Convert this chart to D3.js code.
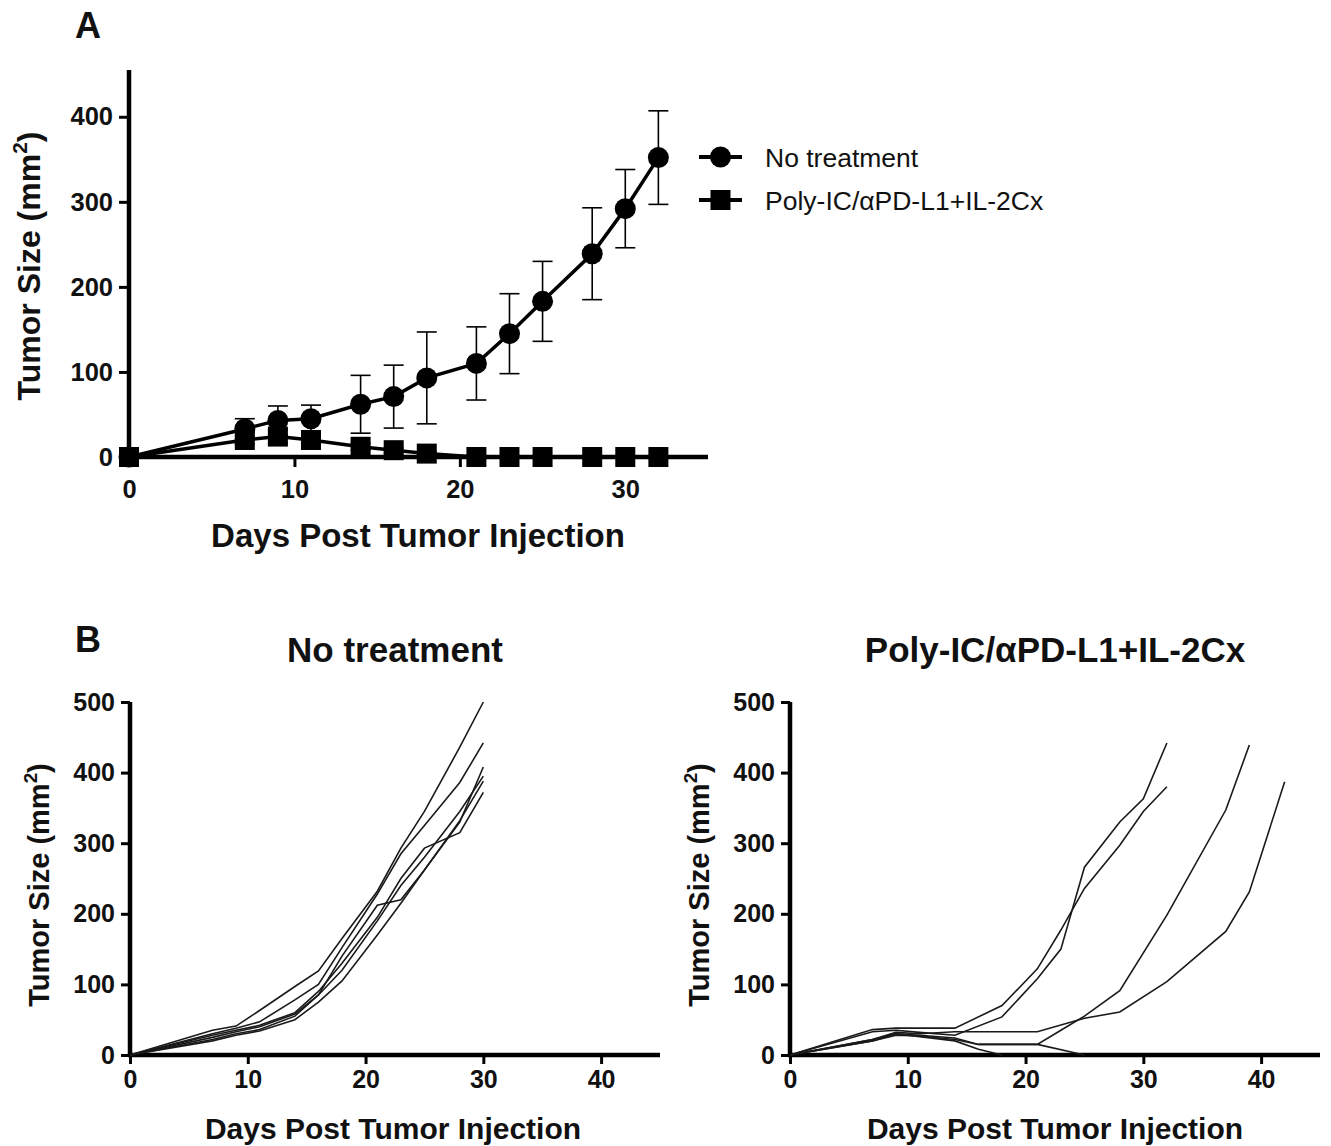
<!DOCTYPE html>
<html>
<head>
<meta charset="utf-8">
<script src="https://cdn.jsdelivr.net/npm/d3@7"></script>
<style>
	body { margin: 0; background: #fff; }
	text { font-family: "Liberation Sans", Arial, Helvetica, sans-serif; fill: #111; }
</style>
</head>
<body>
<svg id="fig" width="1331" height="1146"></svg>
<script>
// ---------- Panel A: group means +/- SEM ----------
const days = [0, 7, 9, 11, 14, 16, 18, 21, 23, 25, 28, 30, 32];
const noTreatMean = [0, 33, 43, 45, 62, 71, 93, 110, 145, 183, 239, 292, 352];
const noTreatSem  = [0, 12, 17, 16, 34, 37, 54, 43, 47, 47, 54, 46, 55];
const comboMean   = [0, 20, 24, 20, 12, 8, 4, 0, 0, 0, 0, 0, 0];
const comboSem    = [0, 5, 8, 6, 4, 3, 2, 0, 0, 0, 0, 0, 0];
const groupNames  = ["No treatment", "Poly-IC/\u03B1PD-L1+IL-2Cx"];

// ---------- Panel B: individual mice ----------
const ntDays = [0, 7, 9, 11, 14, 16, 18, 21, 23, 25, 28, 30];
const ntMice = [
	[0, 35, 41, 63, 97, 119, 165, 232, 293, 345, 436, 500],
	[0, 30, 38, 47, 78, 100, 152, 228, 285, 325, 386, 442],
	[0, 25, 33, 40, 58, 85, 140, 212, 220, 262, 330, 408],
	[0, 28, 35, 42, 60, 90, 130, 195, 250, 293, 315, 372],
	[0, 22, 30, 36, 55, 85, 120, 190, 240, 280, 345, 395],
	[0, 20, 28, 34, 50, 75, 105, 170, 215, 262, 332, 388]
];

const comboMiceDays = [
	[0, 7, 9, 11, 14, 18, 21, 23, 25, 28, 30, 32],
	[0, 7, 9, 11, 14, 18, 21, 23, 25, 28, 30, 32],
	[0, 7, 9, 11, 14, 16, 21, 23, 25, 28, 32, 37, 39],
	[0, 7, 9, 11, 14, 18, 21, 25, 28, 32, 37, 39, 42],
	[0, 7, 9, 11, 14, 16, 21, 25],
	[0, 7, 9, 11, 14, 16, 18]
];
const comboMiceVals = [
	[0, 33, 35, 32, 28, 54, 108, 150, 266, 330, 363, 442],
	[0, 36, 38, 38, 38, 70, 122, 177, 236, 297, 345, 380],
	[0, 22, 30, 28, 24, 15, 15, 35, 55, 91, 198, 347, 439],
	[0, 22, 32, 30, 33, 33, 33, 52, 61, 104, 175, 231, 387],
	[0, 20, 28, 27, 22, 15, 15, 0],
	[0, 20, 30, 26, 20, 8, 0]
];

const xTitle = "Days Post Tumor Injection";

const svg = d3.select("#fig");

// axis helper: thick black axes, bold tick labels
function drawAxes(x, y, xTicks, yTicks, opt) {
	const y0 = y.range()[0];
	const x0 = x.range()[0];

	const gx = svg.append("g")
		.attr("transform", `translate(0, ${y0})`)
		.call(d3.axisBottom(x).tickValues(xTicks).tickSize(opt.tick).tickSizeOuter(0).tickPadding(opt.xPad));
	const gy = svg.append("g")
		.attr("transform", `translate(${x0}, 0)`)
		.call(d3.axisLeft(y).tickValues(yTicks).tickSize(opt.tick).tickSizeOuter(0).tickPadding(opt.yPad));

	[gx, gy].forEach(g => {
		g.attr("font-family", null).attr("font-size", opt.font).attr("font-weight", "bold");
		g.select(".domain").attr("stroke", "#000").attr("stroke-width", 4.5);
		g.selectAll(".tick line").attr("stroke", "#000").attr("stroke-width", 3);
		g.selectAll(".tick text").attr("fill", "#111");
	});
	// make x axis meet the y axis at the corner
	gx.select(".domain").attr("d", `M${x0 - 2},0H${x.range()[1]}`);
	gy.select(".domain").attr("d", `M0,${y.range()[1]}V${y0 + 2}`);
}

function yTitle(cx, cy, size) {
	const t = svg.append("text")
		.attr("transform", `translate(${cx}, ${cy}) rotate(-90)`)
		.attr("text-anchor", "middle")
		.attr("font-size", size)
		.attr("font-weight", "bold");
	t.append("tspan").text("Tumor Size (mm");
	t.append("tspan").attr("font-size", size * 0.65).attr("dy", -size * 0.4).text("2");
	t.append("tspan").attr("dy", size * 0.4).text(")");
}

function label(txt, x, y, size, weight) {
	svg.append("text")
		.attr("x", x).attr("y", y)
		.attr("text-anchor", "middle")
		.attr("font-size", size)
		.attr("font-weight", weight || "bold")
		.text(txt);
}

/** ******************************* Panel A ******************************* **/
const xA = d3.scaleLinear().domain([0, 35]).range([129, 708]);
const yA = d3.scaleLinear().domain([0, 455]).range([457, 70]);

label("A", 88, 38, 36);
drawAxes(xA, yA, [0, 10, 20, 30], [0, 100, 200, 300, 400], {tick: 10, xPad: 13, yPad: 6, font: 25.5});
yTitle(40, 266, 32);
label(xTitle, 418, 547, 33);

const lineA = d3.line().x((d, i) => xA(days[i])).y(d => yA(d));

function errorBars(mean, sem) {
	const g = svg.append("g").attr("stroke", "#000").attr("stroke-width", 1.6);
	days.forEach((d, i) => {
		if (sem[i] <= 0) return;
		const cx = xA(d);
		const top = yA(mean[i] + sem[i]);
		const bot = yA(mean[i] - sem[i]);
		g.append("line").attr("x1", cx).attr("x2", cx).attr("y1", top).attr("y2", bot);
		g.append("line").attr("x1", cx - 10).attr("x2", cx + 10).attr("y1", top).attr("y2", top);
		g.append("line").attr("x1", cx - 10).attr("x2", cx + 10).attr("y1", bot).attr("y2", bot);
	});
}

errorBars(noTreatMean, noTreatSem);
errorBars(comboMean, comboSem);

svg.append("path").datum(comboMean)
	.attr("fill", "none").attr("stroke", "#000").attr("stroke-width", 3.5)
	.attr("d", lineA);
svg.append("path").datum(noTreatMean)
	.attr("fill", "none").attr("stroke", "#000").attr("stroke-width", 3.5)
	.attr("d", lineA);

const SQ = 20;
svg.append("g").selectAll("rect")
	.data(comboMean)
	.enter()
	.append("rect")
	.attr("x", (d, i) => xA(days[i]) - SQ / 2)
	.attr("y", d => yA(d) - SQ / 2)
	.attr("width", SQ).attr("height", SQ)
	.attr("fill", "#000");

svg.append("g").selectAll("circle")
	.data(noTreatMean)
	.enter()
	.append("circle")
	.attr("cx", (d, i) => xA(days[i]))
	.attr("cy", d => yA(d))
	.attr("r", 10.5)
	.attr("fill", "#000");

// legend
const legend = svg.append("g").attr("transform", "translate(699, 157)");
groupNames.forEach((name, i) => {
	const row = legend.append("g").attr("transform", `translate(0, ${i * 43})`);
	row.append("line").attr("x1", 0).attr("x2", 43).attr("stroke", "#000").attr("stroke-width", 4);
	if (i === 0) row.append("circle").attr("cx", 21.5).attr("r", 10.5).attr("fill", "#000");
	else row.append("rect").attr("x", 21.5 - SQ / 2).attr("y", -SQ / 2).attr("width", SQ).attr("height", SQ).attr("fill", "#000");
	row.append("text").attr("x", 66).attr("dy", "0.36em").attr("font-size", 26.5).text(name);
});

/** ******************************* Panel B ******************************* **/
label("B", 88, 652, 36);

const yB = d3.scaleLinear().domain([0, 500]).range([1055, 702]);
const xB1 = d3.scaleLinear().domain([0, 45]).range([130, 660]);
const xB2 = d3.scaleLinear().domain([0, 45]).range([790, 1320]);

// left: No treatment
label(groupNames[0], 395, 662, 35);
drawAxes(xB1, yB, [0, 10, 20, 30, 40], [0, 100, 200, 300, 400, 500], {tick: 9, xPad: 6, yPad: 6, font: 25});
yTitle(49, 885, 29);
label(xTitle, 393, 1139, 30);

const lineB1 = d3.line().x((d, i) => xB1(ntDays[i])).y(d => yB(d));
svg.append("g").selectAll("path")
	.data(ntMice)
	.enter()
	.append("path")
	.attr("fill", "none").attr("stroke", "#1a1a1a").attr("stroke-width", 1.6)
	.attr("d", lineB1);

// right: combination therapy
label(groupNames[1], 1055, 662, 35);
drawAxes(xB2, yB, [0, 10, 20, 30, 40], [0, 100, 200, 300, 400, 500], {tick: 9, xPad: 6, yPad: 6, font: 25});
yTitle(709, 885, 29);
label(xTitle, 1055, 1139, 30);

const lineB2 = d3.line().x(d => xB2(d[0])).y(d => yB(d[1]));
svg.append("g").selectAll("path")
	.data(comboMiceVals.map((vals, m) => vals.map((v, i) => [comboMiceDays[m][i], v])))
	.enter()
	.append("path")
	.attr("fill", "none").attr("stroke", "#1a1a1a").attr("stroke-width", 1.6)
	.attr("d", lineB2);
</script>
</body>
</html>
